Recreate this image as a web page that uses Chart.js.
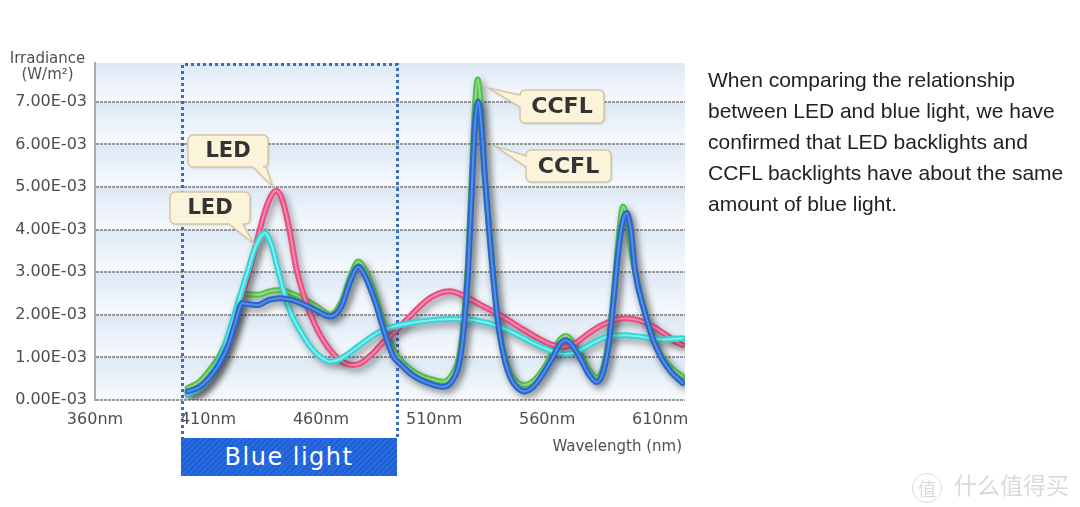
<!DOCTYPE html>
<html><head><meta charset="utf-8">
<script src="https://cdn.jsdelivr.net/npm/chart.js@4.4.0/dist/chart.umd.min.js"></script>
<style>
html,body{margin:0;padding:0;background:#fff;width:1080px;height:507px;overflow:hidden;}
#wrap{position:relative;width:1080px;height:507px;}
#c{position:absolute;left:0;top:0;}
.lbl{position:absolute;font-family:"DejaVu Sans",sans-serif;color:#505050;white-space:nowrap;}
#ytitle{left:0;top:50px;width:95px;text-align:center;font-size:15px;line-height:16px;}
#xtitle{right:398px;top:437px;font-size:15px;line-height:18px;}
#blue{position:absolute;left:181px;top:438px;width:216px;height:38px;
  background:repeating-linear-gradient(135deg,#1d60d6 0px,#1d60d6 2px,#2a6ce0 2px,#2a6ce0 4px);
  color:#fff;font-family:"DejaVu Sans",sans-serif;font-size:24px;letter-spacing:1.5px;line-height:38px;text-align:center;}
#para{position:absolute;left:708px;top:64px;font-family:"Liberation Sans",Arial,sans-serif;font-size:21px;line-height:31px;color:#222;white-space:nowrap;}
#wm{position:absolute;left:912px;top:469px;font-family:"Noto Sans CJK SC",sans-serif;color:#dadada;font-size:23px;line-height:30px;white-space:nowrap;}
#wm .c{display:inline-block;width:28px;height:28px;border:1.5px solid #dadada;border-radius:50%;text-align:center;line-height:28px;font-size:18px;margin-right:12px;vertical-align:middle;}
</style></head>
<body>
<div id="wrap">
<canvas id="c" width="1080" height="507"></canvas>
<div id="ytitle" class="lbl">Irradiance<br>(W/m²)</div>
<div id="xtitle" class="lbl">Wavelength (nm)</div>
<div id="blue">Blue light</div>
<div id="para">When comparing the relationship<br>between LED and blue light, we have<br>confirmed that LED backlights and<br>CCFL backlights have about the same<br>amount of blue light.</div>
<div id="wm"><span class="c">值</span>什么值得买</div>
</div>
<script>
// ---- tick values ----
const wavelengthTicks = [360, 410, 460, 510, 560, 610];
const irradianceTicks = [0, 1, 2, 3, 4, 5, 6, 7]; // in units of 1E-03 W/m2
const blueLightNm = [398.5, 493.5];

// ---- series (wavelength nm / irradiance x1E-03) ----
const ccflGreenNm  = [401,406,411,415,419,422,425,428,432,437,442,447,452,458,464,469,473,476.5,480,484,488,492,495,500,505,510,514,518,521,523,525,526.5,528,529.3,530.5,532,534,536,538.5,541,544,547,550,554,558,562,565.5,568.5,571.5,575,578.5,582,585,587.5,589.5,591.5,593.6,595.5,597.5,599,603,607,611,615,620];
const ccflGreenVal = [0.28,0.42,0.72,1.02,1.5,2.0,2.5,2.48,2.47,2.55,2.58,2.5,2.38,2.2,2.0,2.3,2.9,3.25,3.0,2.45,1.75,1.17,0.94,0.7,0.55,0.47,0.43,0.6,1.0,1.8,3.2,5.0,6.8,7.52,7.0,5.6,4.2,3.0,1.8,1.05,0.6,0.4,0.35,0.45,0.7,1.05,1.4,1.5,1.35,1.05,0.7,0.52,0.8,1.5,2.5,3.7,4.54,4.2,3.4,3.0,2.1,1.45,1.0,0.75,0.55];

const ccflBlueNm  = [401,406,411,415,419,422,425,428,432,437,442,447,452,458,464,469,473,476.5,480,484,488,492,495,500,505,510,514,518,521,523,525,526.5,528,529.5,531,532.5,534.5,536.5,539,541.5,544,547,550,554,558,562,565.5,568.5,571.5,575,578.5,582,585,587.5,589.5,591.5,593.5,595.2,597,599,603,607,611,615,620];
const ccflBlueVal = [0.2,0.3,0.55,0.85,1.3,1.8,2.27,2.25,2.23,2.35,2.39,2.35,2.25,2.1,1.96,2.2,2.8,3.13,2.85,2.3,1.6,1.02,0.85,0.6,0.45,0.35,0.31,0.45,0.85,1.6,3.0,4.7,6.4,7.0,6.4,5.2,3.9,2.7,1.55,0.9,0.5,0.28,0.2,0.32,0.6,0.95,1.3,1.4,1.25,0.95,0.6,0.42,0.7,1.4,2.4,3.5,4.2,4.39,4.0,3.0,2.1,1.4,0.95,0.65,0.4];

const ledPinkNm  = [401,406,411,416,421,426,431,435,438,440,442.5,446,449,453,457,461,466,470,474,478,483,488,493,500,507,512,517,523,530,539,548,556,562,567,572,578,584,590,595,600,606,612,616,620];
const ledPinkVal = [0.16,0.3,0.55,1.0,1.7,2.6,3.6,4.4,4.8,4.91,4.75,4.0,3.1,2.35,1.8,1.4,1.05,0.88,0.82,0.88,1.1,1.38,1.62,2.0,2.35,2.5,2.55,2.45,2.25,2.0,1.7,1.45,1.3,1.25,1.32,1.55,1.75,1.88,1.92,1.88,1.75,1.55,1.4,1.29];

const ledCyanNm  = [401,406,411,416,420,424,428,431,435.2,438,441,444,447,451,456,460,464,468,473,480,487,495,505,517,528,539,548,556,562,568,573,579,586,594,602,611,620];
const ledCyanVal = [0.12,0.25,0.55,1.05,1.7,2.4,3.1,3.6,3.92,3.65,3.05,2.45,2.0,1.6,1.2,1.0,0.9,0.95,1.12,1.4,1.63,1.76,1.85,1.9,1.87,1.72,1.5,1.28,1.15,1.08,1.13,1.3,1.48,1.52,1.48,1.42,1.45];

const toPts = (xs, ys) => xs.map((x, i) => ({ x: x, y: ys[i] }));

// callout layout (pixel boxes)
const callouts = [
  { text: 'LED',  size: 21, box: [188, 135, 80, 32], side: 'bottom', base: [253, 266], tip: [273, 187] },
  { text: 'LED',  size: 21, box: [170, 192, 80, 32], side: 'bottom', base: [229, 243], tip: [253, 243] },
  { text: 'CCFL', size: 22, box: [520, 90, 84, 33],  side: 'left',   base: [95, 107],  tip: [488, 88] },
  { text: 'CCFL', size: 22, box: [526, 150, 85, 32], side: 'left',   base: [156, 167], tip: [495, 146] }
];

Chart.defaults.font.family = '"DejaVu Sans", sans-serif';

const bandsPlugin = {
  id: 'bands',
  beforeDraw(chart) {
    const { ctx, chartArea: a, scales: { y } } = chart;
    const edges = [a.top].concat(irradianceTicks.slice().reverse().map(v => y.getPixelForValue(v)));
    ctx.save();
    for (let i = 0; i < edges.length - 1; i++) {
      const t = edges[i], b = edges[i + 1];
      const g = ctx.createLinearGradient(0, t, 0, b);
      g.addColorStop(0, '#dde9f6');
      g.addColorStop(1, '#f7fafd');
      ctx.fillStyle = g;
      ctx.fillRect(a.left, t, a.right - a.left, b - t);
    }
    ctx.restore();
  }
};

const dottedPlugin = {
  id: 'dotted',
  beforeDatasetsDraw(chart) {
    const { ctx, chartArea: a, scales: { x } } = chart;
    const x0 = Math.round(x.getPixelForValue(blueLightNm[0])) + 0.5;
    const x1 = Math.round(x.getPixelForValue(blueLightNm[1])) + 0.5;
    ctx.save();
    ctx.strokeStyle = '#3b6dbf';
    ctx.lineWidth = 3;
    ctx.setLineDash([3, 3]);
    ctx.beginPath();
    ctx.moveTo(x0, 440); ctx.lineTo(x0, a.top + 1.5); ctx.lineTo(x1, a.top + 1.5); ctx.lineTo(x1, 440);
    ctx.stroke();
    ctx.restore();
  }
};

const shadowPlugin = {
  id: 'lineShadow',
  beforeDatasetDraw(chart) {
    const c = chart.ctx;
    c.save();
    c.shadowColor = 'rgba(40,40,40,0.45)';
    c.shadowBlur = 7;
    c.shadowOffsetX = 3;
    c.shadowOffsetY = 4;
  },
  afterDatasetDraw(chart, args) {
    const c = chart.ctx;
    c.restore();
    const ds = chart.data.datasets[args.index];
    const line = args.meta.dataset;
    if (!ds.highlight || !line) return;
    const a = chart.chartArea;
    c.save();
    c.beginPath(); c.rect(a.left, a.top, a.right - a.left, a.bottom - a.top); c.clip();
    c.beginPath();
    try { line.path(c); } catch (e) {}
    c.lineWidth = 2; c.strokeStyle = ds.highlight; c.lineCap = 'round'; c.lineJoin = 'round';
    c.stroke();
    c.restore();
  }
};

function calloutPath(ctx, o) {
  const [x, y, w, h] = o.box, r = 5;
  ctx.beginPath();
  ctx.moveTo(x + r, y);
  ctx.lineTo(x + w - r, y); ctx.arcTo(x + w, y, x + w, y + r, r);
  ctx.lineTo(x + w, y + h - r); ctx.arcTo(x + w, y + h, x + w - r, y + h, r);
  if (o.side === 'bottom') { ctx.lineTo(o.base[1], y + h); ctx.lineTo(o.tip[0], o.tip[1]); ctx.lineTo(o.base[0], y + h); }
  ctx.lineTo(x + r, y + h); ctx.arcTo(x, y + h, x, y + h - r, r);
  if (o.side === 'left') { ctx.lineTo(x, o.base[1]); ctx.lineTo(o.tip[0], o.tip[1]); ctx.lineTo(x, o.base[0]); }
  ctx.lineTo(x, y + r); ctx.arcTo(x, y, x + r, y, r);
  ctx.closePath();
}

const calloutPlugin = {
  id: 'callouts',
  afterDatasetsDraw(chart) {
    const ctx = chart.ctx;
    callouts.forEach(o => {
      ctx.save();
      calloutPath(ctx, o);
      ctx.shadowColor = 'rgba(0,0,0,0.18)'; ctx.shadowBlur = 3; ctx.shadowOffsetX = 1; ctx.shadowOffsetY = 1;
      ctx.fillStyle = '#fbf3da';
      ctx.fill();
      ctx.shadowColor = 'transparent';
      ctx.strokeStyle = '#d4c9a6'; ctx.lineWidth = 1.5;
      ctx.stroke();
      ctx.fillStyle = '#333';
      ctx.font = 'bold ' + o.size + 'px "DejaVu Sans", sans-serif';
      ctx.textAlign = 'center'; ctx.textBaseline = 'middle';
      ctx.fillText(o.text, o.box[0] + o.box[2] / 2, o.box[1] + o.box[3] / 2 + 1);
      ctx.restore();
    });
  }
};

const common = { pointRadius: 0, borderWidth: 6, cubicInterpolationMode: 'monotone', fill: false, borderCapStyle: 'round', borderJoinStyle: 'round' };

new Chart(document.getElementById('c'), {
  type: 'line',
  data: {
    datasets: [
      Object.assign({ label: 'CCFL', data: toPts(ccflGreenNm, ccflGreenVal), borderColor: '#55c24f', highlight: 'rgba(170,235,150,0.7)', order: 4 }, common),
      Object.assign({ label: 'LED',  data: toPts(ledPinkNm, ledPinkVal),   borderColor: '#e84f80', highlight: 'rgba(255,160,190,0.7)', order: 3 }, common),
      Object.assign({ label: 'LED',  data: toPts(ledCyanNm, ledCyanVal),   borderColor: '#33d5d6', highlight: 'rgba(170,245,245,0.7)', order: 2 }, common),
      Object.assign({ label: 'CCFL', data: toPts(ccflBlueNm, ccflBlueVal), borderColor: '#2766cc', highlight: 'rgba(110,160,235,0.7)', order: 1 }, common)
    ]
  },
  options: {
    responsive: false,
    animation: false,
    events: [],
    layout: { padding: { left: 0, top: 63, right: 395, bottom: 0 } },
    plugins: { legend: { display: false }, tooltip: { enabled: false } },
    scales: {
      x: {
        type: 'linear', min: 360, max: 621,
        afterBuildTicks: s => { s.ticks = wavelengthTicks.map(v => ({ value: v })); },
        afterFit: s => { s.height = 107; },
        grid: { display: false, drawTicks: false },
        border: { display: false },
        ticks: { autoSkip: false, maxRotation: 0, padding: 10, color: '#4e4e4e', font: { size: 16 }, callback: v => v + 'nm' }
      },
      y: {
        type: 'linear', min: 0, max: 7.91,
        afterBuildTicks: s => { s.ticks = irradianceTicks.map(v => ({ value: v })); },
        afterFit: s => { s.width = 95; },
        grid: { color: 'rgba(135,135,135,0.85)', lineWidth: 2, drawTicks: false },
        border: { display: true, color: 'rgba(150,150,150,0.8)', width: 2, dash: [3, 1] },
        ticks: { autoSkip: false, padding: 8, color: '#4e4e4e', font: { size: 16 }, callback: v => Number(v).toFixed(2) + 'E-03' }
      }
    }
  },
  plugins: [bandsPlugin, dottedPlugin, shadowPlugin, calloutPlugin]
});
</script>
</body></html>
